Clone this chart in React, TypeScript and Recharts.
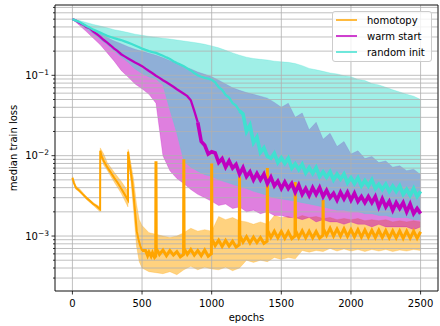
import { ComposedChart, Area, Line, XAxis, YAxis, CartesianGrid, ReferenceArea, Legend, Label } from 'recharts';

const X_DOMAIN = [-125, 2625];
const Y_DOMAIN = [2.07e-4, 0.75];
const X_TICKS = [0, 500, 1000, 1500, 2000, 2500];
const Y_TICKS = [
  3e-4, 4e-4, 5e-4, 6e-4, 7e-4, 8e-4, 9e-4,
  1e-3, 2e-3, 3e-3, 4e-3, 5e-3, 6e-3, 7e-3, 8e-3, 9e-3,
  1e-2, 2e-2, 3e-2, 4e-2, 5e-2, 6e-2, 7e-2, 8e-2, 9e-2,
  1e-1, 2e-1, 3e-1, 4e-1, 5e-1, 6e-1, 7e-1,
];

const SERIES = [
  { name: 'homotopy', color: '#ffa500' },
  { name: 'warm start', color: '#bf00bf' },
  { name: 'random init', color: '#40e0d0' },
];

// medians of warm start / random init, every 25 epochs
const MEDIAN_EPOCHS = [
  0, 25, 50, 75, 100, 125, 150, 175, 200, 225, 250, 275, 300, 325, 350, 375, 400, 425, 450, 475,
  500, 525, 550, 575, 600, 625, 650, 675, 700, 725, 750, 775, 800, 825, 850, 875, 900, 925, 950, 975,
  1000, 1025, 1050, 1075, 1100, 1125, 1150, 1175, 1200, 1225, 1250, 1275, 1300, 1325, 1350, 1375, 1400, 1425, 1450, 1475,
  1500, 1525, 1550, 1575, 1600, 1625, 1650, 1675, 1700, 1725, 1750, 1775, 1800, 1825, 1850, 1875, 1900, 1925, 1950, 1975,
  2000, 2025, 2050, 2075, 2100, 2125, 2150, 2175, 2200, 2225, 2250, 2275, 2300, 2325, 2350, 2375, 2400, 2425, 2450, 2475,
  2500,
];
const WARM_MEDIAN = [
  0.5, 0.48, 0.45, 0.43, 0.4, 0.385, 0.35, 0.325, 0.3,
  0.275, 0.255, 0.235, 0.215, 0.2, 0.183, 0.172, 0.162,
  0.153, 0.144, 0.137, 0.13, 0.121, 0.113, 0.106, 0.099,
  0.093, 0.087, 0.082, 0.077, 0.072, 0.067, 0.063, 0.059,
  0.055, 0.049, 0.036, 0.026, 0.015, 0.0135, 0.0105, 0.0112,
  0.0108, 0.0082, 0.0092, 0.0072, 0.0086, 0.007, 0.0078, 0.0059,
  0.0071, 0.0055, 0.0063, 0.005, 0.006, 0.005, 0.0059, 0.0045,
  0.0054, 0.0042, 0.0048, 0.0039, 0.0047, 0.0039, 0.0045, 0.0035,
  0.0043, 0.0033, 0.0039, 0.0032, 0.004, 0.0033, 0.004, 0.0031,
  0.0037, 0.003, 0.0034, 0.0028, 0.0035, 0.0029, 0.0035, 0.0028,
  0.0034, 0.0027, 0.0031, 0.0026, 0.0031, 0.0026, 0.0031, 0.0023,
  0.0029, 0.0023, 0.0027, 0.0021, 0.0026, 0.0022, 0.0026, 0.002,
  0.0025, 0.0019, 0.0022, 0.0019,
];
const RANDOM_MEDIAN = [
  0.5, 0.48, 0.46, 0.435, 0.41, 0.39, 0.37, 0.355, 0.34,
  0.325, 0.31, 0.3, 0.29, 0.282, 0.275, 0.265, 0.255,
  0.245, 0.235, 0.225, 0.215, 0.207, 0.2, 0.195, 0.19,
  0.182, 0.175, 0.167, 0.16, 0.15, 0.142, 0.136, 0.13,
  0.122, 0.115, 0.107, 0.1, 0.096, 0.093, 0.091, 0.088,
  0.082, 0.071, 0.066, 0.057, 0.053, 0.045, 0.042, 0.036,
  0.033, 0.02, 0.024, 0.0145, 0.017, 0.011, 0.0125, 0.0098,
  0.0093, 0.0107, 0.0082, 0.0094, 0.008, 0.0093, 0.007, 0.0079,
  0.0067, 0.0078, 0.0061, 0.0071, 0.006, 0.0071, 0.0055, 0.0063,
  0.0054, 0.0063, 0.005, 0.0059, 0.0051, 0.0059, 0.0046, 0.0053,
  0.0045, 0.0053, 0.0042, 0.0049, 0.0042, 0.005, 0.0039, 0.0044,
  0.0038, 0.0044, 0.0036, 0.0042, 0.0036, 0.0042, 0.0033, 0.0038,
  0.0032, 0.0039, 0.0031, 0.0036,
];

// bands of warm start / random init, every 50 epochs
const BAND_EPOCHS = [
  0, 50, 100, 150, 200, 250, 300, 350, 400, 450,
  500, 550, 600, 650, 700, 750, 800, 850, 900, 950,
  1000, 1050, 1100, 1150, 1200, 1250, 1300, 1350, 1400, 1450,
  1500, 1550, 1600, 1650, 1700, 1750, 1800, 1850, 1900, 1950,
  2000, 2050, 2100, 2150, 2200, 2250, 2300, 2350, 2400, 2450,
  2500,
];
const RANDOM_HIGH = [
  0.5, 0.48, 0.455, 0.43, 0.41, 0.39, 0.37, 0.355, 0.34, 0.325,
  0.315, 0.305, 0.297, 0.29, 0.283, 0.275, 0.267, 0.26, 0.252, 0.243,
  0.232, 0.22, 0.205, 0.19, 0.178, 0.168, 0.162, 0.158, 0.155, 0.15,
  0.147, 0.145, 0.14, 0.132, 0.122, 0.117, 0.112, 0.107, 0.104, 0.099,
  0.096, 0.089, 0.086, 0.079, 0.076, 0.071, 0.066, 0.062, 0.058, 0.055,
  0.05,
];
const RANDOM_LOW = [
  0.5, 0.44, 0.38, 0.33, 0.28, 0.24, 0.2, 0.17, 0.145, 0.12,
  0.105, 0.095, 0.09, 0.075, 0.037, 0.019, 0.0085, 0.0072, 0.0064, 0.0058,
  0.0055, 0.005, 0.0047, 0.0044, 0.0041, 0.0039, 0.0036, 0.0034, 0.0032, 0.003,
  0.0029, 0.0028, 0.0027, 0.0026, 0.0025, 0.0024, 0.0023, 0.0022, 0.0021, 0.0021,
  0.002, 0.002, 0.0019, 0.0019, 0.0018, 0.0018, 0.0017, 0.0017, 0.0017, 0.0016,
  0.0016,
];
const WARM_HIGH = [
  0.5, 0.465, 0.415, 0.37, 0.33, 0.295, 0.268, 0.247, 0.227, 0.211,
  0.199, 0.188, 0.178, 0.165, 0.152, 0.14, 0.128, 0.12, 0.11, 0.103,
  0.096, 0.087, 0.078, 0.07, 0.065, 0.061, 0.058, 0.055, 0.052, 0.046,
  0.04, 0.045, 0.03, 0.034, 0.021, 0.026, 0.016, 0.019, 0.013, 0.015,
  0.0105, 0.0115, 0.0092, 0.0098, 0.0082, 0.0086, 0.0072, 0.0075, 0.0065, 0.0068,
  0.0058,
];
const WARM_LOW = [
  0.5, 0.42, 0.35, 0.29, 0.24, 0.19, 0.15, 0.115, 0.095, 0.078,
  0.068, 0.058, 0.045, 0.01, 0.0065, 0.0052, 0.0045, 0.0038, 0.0033, 0.003,
  0.0027, 0.0024, 0.0025, 0.0022, 0.0023, 0.002, 0.0021, 0.0019, 0.002, 0.0018,
  0.0018, 0.0017, 0.0017, 0.0016, 0.0017, 0.0015, 0.0016, 0.0015, 0.0015, 0.0014,
  0.0015, 0.0014, 0.0014, 0.0013, 0.0014, 0.0013, 0.0013, 0.0013, 0.0013, 0.0012,
  0.0013,
];

// homotopy median, restarts every 200 epochs give the spikes
const HOMOTOPY_EPOCHS = [
  0, 10, 25, 40, 75, 100, 125, 150, 175, 199,
  200, 210, 225, 250, 275, 300, 325, 350, 375, 399,
  400, 410, 420, 430, 440, 450, 462, 475, 488, 500,
  525, 540, 550, 565, 575, 590, 598,
  600, 602, 625, 650, 675, 700, 725, 750, 775, 798,
  800, 802, 825, 850, 875, 900, 925, 950, 975, 998,
  1000, 1002, 1025, 1050, 1075, 1100, 1125, 1150, 1175, 1198,
  1200, 1202, 1225, 1250, 1275, 1300, 1325, 1350, 1375, 1398,
  1400, 1402, 1425, 1450, 1475, 1500, 1525, 1550, 1575, 1598,
  1600, 1602, 1625, 1650, 1675, 1700, 1725, 1750, 1775, 1798,
  1800, 1802, 1825, 1850, 1875, 1900, 1925, 1950, 1975, 2000,
  2025, 2050, 2075, 2100, 2125, 2150, 2175, 2200, 2225, 2250,
  2275, 2300, 2325, 2350, 2375, 2400, 2425, 2450, 2475, 2500,
];
const HOMOTOPY_MEDIAN = [
  5.3e-3, 4.6e-3, 4.0e-3, 3.8e-3, 3.3e-3, 3.0e-3, 2.75e-3, 2.5e-3, 2.35e-3, 2.15e-3,
  1.15e-2, 9.8e-3, 8.6e-3, 7.2e-3, 6.2e-3, 5.3e-3, 4.6e-3, 3.9e-3, 3.3e-3, 2.8e-3,
  1.12e-2, 8.0e-3, 6.1e-3, 4.6e-3, 3.1e-3, 2.0e-3, 1.15e-3, 9.0e-4, 7.5e-4, 6.6e-4,
  6.6e-4, 5.7e-4, 6.3e-4, 5.6e-4, 6.2e-4, 5.4e-4, 5.6e-4,
  8.5e-3, 7.0e-4, 5.9e-4, 6.7e-4, 5.7e-4, 6.6e-4, 5.8e-4, 6.4e-4, 5.5e-4, 5.9e-4,
  9.0e-3, 7.0e-4, 5.9e-4, 6.8e-4, 5.8e-4, 6.6e-4, 5.7e-4, 6.7e-4, 5.6e-4, 6.0e-4,
  8.0e-3, 9.2e-4, 7.6e-4, 8.9e-4, 7.4e-4, 8.8e-4, 7.5e-4, 8.6e-4, 7.3e-4, 7.8e-4,
  5.5e-3, 1.02e-3, 8.4e-4, 9.8e-4, 8.2e-4, 9.7e-4, 8.3e-4, 9.6e-4, 8.1e-4, 8.6e-4,
  7.0e-3, 1.18e-3, 9.6e-4, 1.15e-3, 9.5e-4, 1.14e-3, 9.4e-4, 1.13e-3, 9.3e-4, 1.0e-3,
  4.7e-3, 1.18e-3, 9.6e-4, 1.16e-3, 9.5e-4, 1.15e-3, 9.5e-4, 1.14e-3, 9.4e-4, 1.02e-3,
  2.8e-3, 1.24e-3, 1.02e-3, 1.25e-3, 1.0e-3, 1.22e-3, 1.0e-3, 1.23e-3, 9.9e-4, 1.2e-3,
  9.8e-4, 1.2e-3, 9.7e-4, 1.19e-3, 9.7e-4, 1.18e-3, 9.6e-4, 1.18e-3, 9.6e-4, 1.17e-3,
  9.5e-4, 1.16e-3, 9.5e-4, 1.16e-3, 9.4e-4, 1.15e-3, 9.4e-4, 1.15e-3, 9.4e-4, 1.13e-3,
];

const HOMOTOPY_BAND_EPOCHS = [
  0, 25, 50, 100, 150, 199, 200, 225, 250, 300, 350, 399, 400, 420, 440, 460, 480, 500, 550, 600,
  650, 700, 750, 800, 850, 900, 950, 1000, 1050, 1100, 1150, 1200, 1250, 1300, 1350, 1400,
  1450, 1500, 1550, 1600, 1650, 1700, 1750, 1800, 1850, 1900, 1950, 2000, 2050, 2100,
  2150, 2200, 2250, 2300, 2350, 2400, 2450, 2500,
];
const HOMOTOPY_LOW = [
  5.0e-3, 3.8e-3, 3.6e-3, 2.85e-3, 2.4e-3, 2.0e-3, 1.05e-2, 7.6e-3, 6.6e-3, 4.7e-3,
  3.4e-3, 2.3e-3, 1.0e-2, 4.8e-3, 2.0e-3, 7.5e-4, 4.8e-4, 4.0e-4, 3.6e-4, 3.5e-4,
  3.4e-4, 3.6e-4, 3.3e-4, 3.8e-4, 4.2e-4, 3.8e-4, 4.1e-4, 3.9e-4, 3.8e-4, 4.1e-4,
  3.7e-4, 4.0e-4, 5.0e-4, 4.7e-4, 5.0e-4, 4.8e-4, 5.4e-4, 5.1e-4, 5.4e-4, 5.2e-4,
  6.6e-4, 6.3e-4, 6.6e-4, 6.4e-4, 7.0e-4, 6.5e-4, 6.9e-4, 6.5e-4, 6.8e-4, 6.4e-4,
  6.8e-4, 6.5e-4, 6.8e-4, 6.4e-4, 6.7e-4, 6.5e-4, 6.8e-4, 6.6e-4,
];
const HOMOTOPY_HIGH = [
  5.6e-3, 4.2e-3, 3.9e-3, 3.1e-3, 2.6e-3, 2.3e-3, 1.25e-2, 1.05e-2, 8.2e-3, 6.2e-3,
  4.8e-3, 3.6e-3, 1.2e-2, 8.0e-3, 5.0e-3, 2.5e-3, 1.6e-3, 1.35e-3, 1.1e-3, 1.05e-3,
  1.0e-3, 9.6e-4, 1.0e-3, 1.1e-3, 1.25e-3, 1.15e-3, 1.2e-3, 1.15e-3, 1.75e-3, 1.6e-3,
  1.7e-3, 1.55e-3, 1.5e-3, 1.4e-3, 1.5e-3, 1.4e-3, 1.8e-3, 1.7e-3, 1.75e-3, 1.65e-3,
  1.8e-3, 1.7e-3, 1.75e-3, 1.65e-3, 1.7e-3, 1.6e-3, 1.65e-3, 1.6e-3, 1.65e-3, 1.55e-3,
  1.6e-3, 1.55e-3, 1.6e-3, 1.5e-3, 1.55e-3, 1.5e-3, 1.55e-3, 1.5e-3,
];

const toLine = (xs: number[], ys: number[]) => xs.map((x, i) => ({ x, y: ys[i] }));
const toBand = (xs: number[], lo: number[], hi: number[]) => xs.map((x, i) => ({ x, band: [lo[i], hi[i]] }));

const homotopyLine = toLine(HOMOTOPY_EPOCHS, HOMOTOPY_MEDIAN);
const warmLine = toLine(MEDIAN_EPOCHS, WARM_MEDIAN);
const randomLine = toLine(MEDIAN_EPOCHS, RANDOM_MEDIAN);
const homotopyBand = toBand(HOMOTOPY_BAND_EPOCHS, HOMOTOPY_LOW, HOMOTOPY_HIGH);
const warmBand = toBand(BAND_EPOCHS, WARM_LOW, WARM_HIGH);
const randomBand = toBand(BAND_EPOCHS, RANDOM_LOW, RANDOM_HIGH);

// the noisy late part of each median is drawn with a heavier stroke
const splitAt = (rows: { x: number; y: number }[], epoch: number) => {
  const i = rows.findIndex((r) => r.x === epoch);
  return [rows.slice(0, i + 1), rows.slice(i)];
};
const [homotopyEarly, homotopyLate] = splitAt(homotopyLine, 500);
const [warmEarly, warmLate] = splitAt(warmLine, 900);
const [randomEarly, randomLate] = splitAt(randomLine, 1200);

function LogTick({ x, y, payload }: any) {
  const lg = Math.log10(payload.value);
  const exp = Math.round(lg);
  const major = Math.abs(lg - exp) < 1e-6;
  return (
    <g>
      <line x1={x - (major ? 3.5 : 2)} x2={x} y1={y} y2={y} stroke="#000" strokeWidth={0.8} />
      {major && (
        <text x={x - 6} y={y + 3.5} textAnchor="end" fontSize={10} fill="#000">
          10<tspan dy={-4} fontSize={7.5}>{`\u2212${-exp}`}</tspan>
        </text>
      )}
    </g>
  );
}

function LegendBox() {
  return (
    <div style={{ background: 'rgba(255,255,255,0.8)', border: '1px solid #cccccc', borderRadius: 3, padding: '0 6px 1px 3px', fontSize: 10, color: '#000', fontFamily: 'DejaVu Sans' }}>
      {SERIES.map((s) => (
        <div key={s.name} style={{ display: 'flex', alignItems: 'center', height: 16 }}>
          <svg width={21} height={16} style={{ display: 'block', marginRight: 10 }}>
            <line x1={0} x2={21} y1={8} y2={8} stroke={s.color} strokeWidth={1.5} />
          </svg>
          <span>{s.name}</span>
        </div>
      ))}
    </div>
  );
}

const lineProps = { dataKey: 'y', type: 'linear' as const, dot: false, activeDot: false, isAnimationActive: false };
const bandProps = { dataKey: 'band', type: 'linear' as const, fillOpacity: 0.5, strokeOpacity: 0.3, strokeWidth: 0.8, dot: false, activeDot: false, isAnimationActive: false };

export default function App() {
  return (
    <div style={{ position: 'absolute', left: 0, top: 0, fontFamily: 'DejaVu Sans' }}>
      <ComposedChart width={440} height={326} margin={{ top: 5, right: 2, bottom: 0, left: 0 }}>
        <XAxis
          dataKey="x"
          type="number"
          domain={X_DOMAIN}
          allowDataOverflow
          ticks={X_TICKS}
          interval={0}
          axisLine={false}
          tickSize={3.5}
          tickMargin={5}
          tickLine={{ stroke: '#000', strokeWidth: 0.8 }}
          tick={{ fontSize: 10, fill: '#000' }}
          height={35}
        >
          <Label
            content={(p: any) => (
              <text x={p.viewBox.x + p.viewBox.width / 2} y={p.viewBox.y + 29.5} textAnchor="middle" fontSize={10} fill="#000">epochs</text>
            )}
          />
        </XAxis>
        <YAxis
          type="number"
          scale="log"
          domain={Y_DOMAIN}
          allowDataOverflow
          ticks={Y_TICKS}
          interval={0}
          axisLine={false}
          tickLine={false}
          tickSize={0}
          tickMargin={0}
          tick={<LogTick />}
          width={55}
        >
          <Label
            content={(p: any) => {
              const cx = p.viewBox.x + 16.5;
              const cy = p.viewBox.y + p.viewBox.height / 2;
              return (
                <text x={cx} y={cy} transform={`rotate(-90, ${cx}, ${cy})`} textAnchor="middle" fontSize={10} fill="#000">median train loss</text>
              );
            }}
          />
        </YAxis>
        <Area {...bandProps} data={homotopyBand} fill={SERIES[0].color} stroke={SERIES[0].color} />
        <Area {...bandProps} data={warmBand} fill={SERIES[1].color} stroke={SERIES[1].color} />
        <Area {...bandProps} data={randomBand} fill={SERIES[2].color} stroke={SERIES[2].color} />
        <CartesianGrid stroke="#b0b0b0" strokeWidth={0.8} zIndex={150} />
        <Line {...lineProps} data={homotopyEarly} name="homotopy" stroke={SERIES[0].color} strokeWidth={2} />
        <Line {...lineProps} data={homotopyLate} name="homotopy" stroke={SERIES[0].color} strokeWidth={3} />
        <Line {...lineProps} data={warmEarly} name="warm start" stroke={SERIES[1].color} strokeWidth={2.3} />
        <Line {...lineProps} data={warmLate} name="warm start" stroke={SERIES[1].color} strokeWidth={3.6} />
        <Line {...lineProps} data={randomEarly} name="random init" stroke={SERIES[2].color} strokeWidth={2.3} />
        <Line {...lineProps} data={randomLate} name="random init" stroke={SERIES[2].color} strokeWidth={3.6} />
        <ReferenceArea x1={X_DOMAIN[0]} x2={X_DOMAIN[1]} y1={Y_DOMAIN[0]} y2={Y_DOMAIN[1]} fill="none" stroke="#000" strokeWidth={0.8} zIndex={600} />
        <Legend
          layout="vertical"
          align="center"
          verticalAlign="middle"
          content={<LegendBox />}
          wrapperStyle={{ left: 332, top: 11, width: 'auto' }}
        />
      </ComposedChart>
    </div>
  );
}
